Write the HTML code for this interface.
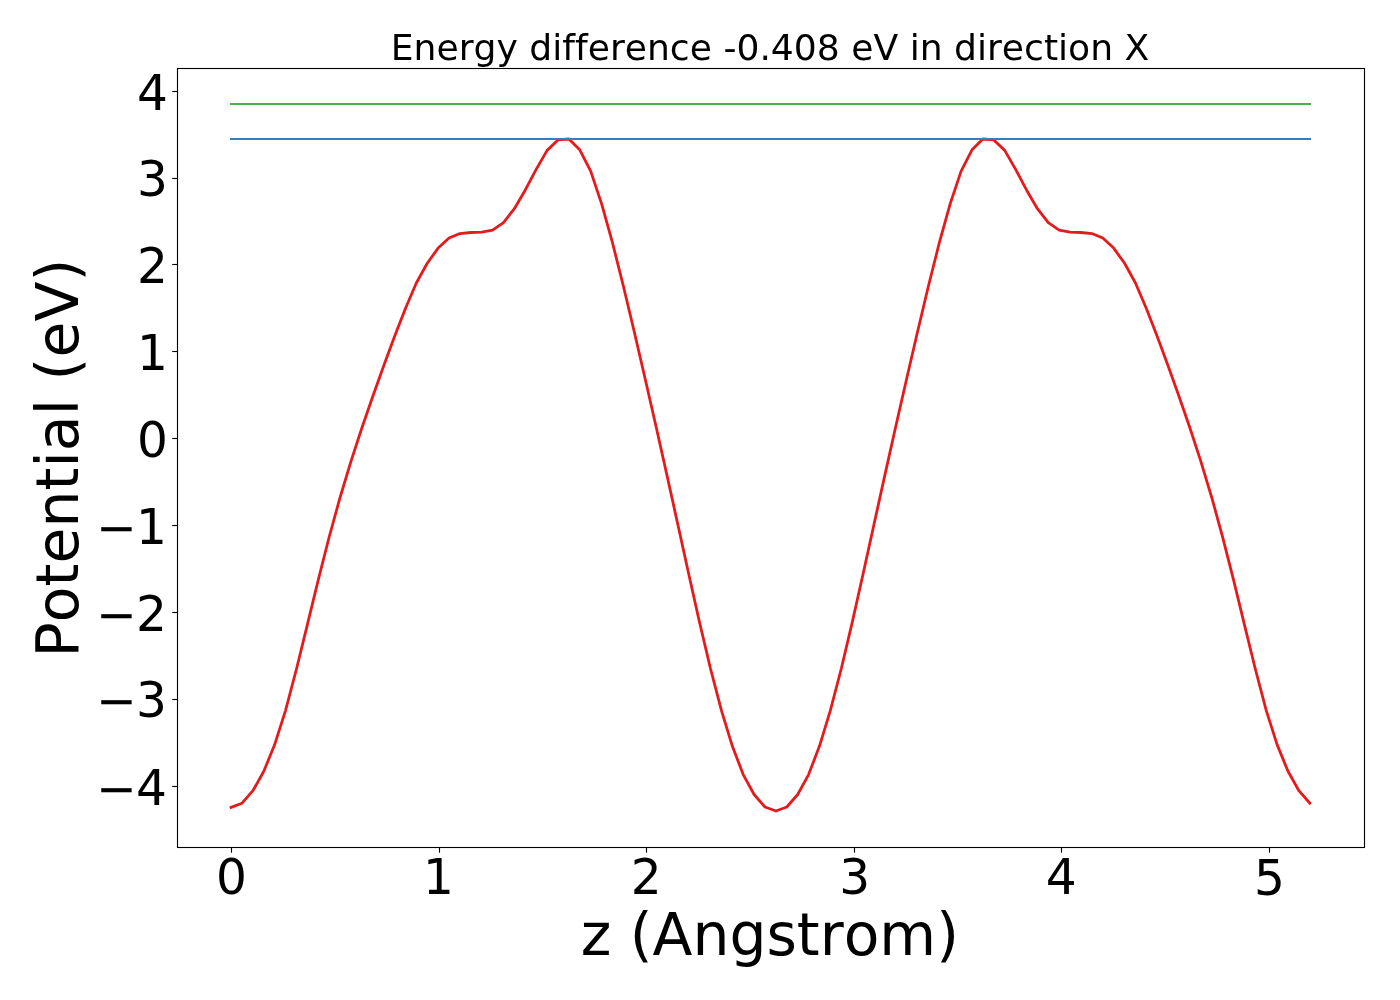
<!DOCTYPE html>
<html lang="en">
<head>
<meta charset="utf-8">
<title>Energy difference -0.408 eV in direction X</title>
<style>
html,body{margin:0;padding:0;background:#fff;}
body{width:1400px;height:1000px;overflow:hidden;}
svg{display:block;will-change:transform;}
text{font-variant-ligatures:none;font-kerning:none;font-family:"DejaVu Sans","Liberation Sans",sans-serif;fill:#000;}
</style>
</head>
<body>
<svg width="1400" height="1000" viewBox="0 0 1400 1000">
<rect width="1400" height="1000" fill="#ffffff"/>
<!-- potential curve -->
<polyline fill="none" stroke="#e41a1c" stroke-width="2.78" stroke-linejoin="round" stroke-linecap="square" points="231.10,807.40 242.00,803.20 252.89,790.70 263.79,771.30 274.68,744.60 285.58,710.35 296.48,668.99 307.37,624.63 318.27,579.85 329.16,537.03 340.06,497.48 350.96,461.38 361.85,428.03 372.75,396.46 383.64,365.95 394.54,336.42 405.44,308.53 416.33,283.04 427.23,263.28 438.12,248.09 449.02,238.08 459.92,233.56 470.81,232.50 481.71,232.13 492.60,230.08 503.50,222.53 514.39,208.70 525.29,189.97 536.19,169.37 547.08,150.37 557.98,139.98 568.87,139.00 579.77,149.78 590.67,171.15 601.56,203.65 612.46,242.64 623.35,286.01 634.25,331.74 645.15,378.70 656.04,426.49 666.94,475.11 677.83,524.47 688.73,574.04 699.63,622.68 710.52,668.76 721.42,710.45 732.31,746.06 743.21,774.56 754.11,794.52 765.00,806.96 775.90,811.07 786.79,806.96 797.69,794.52 808.59,774.56 819.48,746.06 830.38,710.45 841.27,668.76 852.17,622.68 863.07,574.04 873.96,524.47 884.86,475.11 895.75,426.49 906.65,378.70 917.55,331.74 928.44,286.01 939.34,242.64 950.23,203.65 961.13,171.15 972.03,149.78 982.92,139.00 993.82,139.98 1004.71,150.37 1015.61,169.37 1026.51,189.97 1037.40,208.70 1048.30,222.53 1059.19,230.08 1070.09,232.13 1080.98,232.50 1091.88,233.56 1102.78,238.08 1113.67,248.09 1124.57,263.28 1135.46,283.04 1146.36,308.53 1157.26,336.42 1168.15,365.95 1179.05,396.46 1189.94,428.03 1200.84,461.38 1211.74,497.48 1222.63,537.03 1233.53,579.85 1244.42,624.63 1255.32,668.99 1266.22,710.35 1277.11,744.60 1288.01,771.30 1298.90,790.70 1309.80,803.20"/>
<!-- max level and max + energy difference -->
<line x1="231" y1="139" x2="1310" y2="139" stroke="#377eb8" stroke-width="2.08" stroke-linecap="square"/>
<line x1="231" y1="104" x2="1310" y2="104" stroke="#4daf4a" stroke-width="2.08" stroke-linecap="square"/>
<!-- axes frame -->
<rect x="177.5" y="68.5" width="1187.0" height="779.0" fill="none" stroke="#000" stroke-width="1.11" stroke-linejoin="miter"/>
<!-- x ticks -->
<line x1="231.5" y1="847.5" x2="231.5" y2="852.70" stroke="#000" stroke-width="1.11"/>
<text transform="translate(231.45,894) scale(1,1.022)" font-size="48.61" text-anchor="middle">0</text>
<line x1="439.5" y1="847.5" x2="439.5" y2="852.70" stroke="#000" stroke-width="1.11"/>
<text transform="translate(438.55,894) scale(1,1.022)" font-size="48.61" text-anchor="middle">1</text>
<line x1="646.5" y1="847.5" x2="646.5" y2="852.70" stroke="#000" stroke-width="1.11"/>
<text transform="translate(646.15,894) scale(1,1.022)" font-size="48.61" text-anchor="middle">2</text>
<line x1="854.5" y1="847.5" x2="854.5" y2="852.70" stroke="#000" stroke-width="1.11"/>
<text transform="translate(854.75,894) scale(1,1.022)" font-size="48.61" text-anchor="middle">3</text>
<line x1="1061.5" y1="847.5" x2="1061.5" y2="852.70" stroke="#000" stroke-width="1.11"/>
<text transform="translate(1061.15,894) scale(1,1.022)" font-size="48.61" text-anchor="middle">4</text>
<line x1="1269.5" y1="847.5" x2="1269.5" y2="852.70" stroke="#000" stroke-width="1.11"/>
<text transform="translate(1269.45,894.85) scale(1,1.022)" font-size="48.61" text-anchor="middle">5</text>
<!-- y ticks -->
<line x1="172.20" y1="91.5" x2="177.5" y2="91.5" stroke="#000" stroke-width="1.11"/>
<text transform="translate(167.80,110) scale(1,1.022)" font-size="48.61" text-anchor="end">4</text>
<line x1="172.20" y1="178.5" x2="177.5" y2="178.5" stroke="#000" stroke-width="1.11"/>
<text transform="translate(167.80,196) scale(1,1.022)" font-size="48.61" text-anchor="end">3</text>
<line x1="172.20" y1="264.5" x2="177.5" y2="264.5" stroke="#000" stroke-width="1.11"/>
<text transform="translate(167.80,283) scale(1,1.022)" font-size="48.61" text-anchor="end">2</text>
<line x1="172.20" y1="351.5" x2="177.5" y2="351.5" stroke="#000" stroke-width="1.11"/>
<text transform="translate(167.80,370) scale(1,1.022)" font-size="48.61" text-anchor="end">1</text>
<line x1="172.20" y1="438.5" x2="177.5" y2="438.5" stroke="#000" stroke-width="1.11"/>
<text transform="translate(167.80,457) scale(1,1.022)" font-size="48.61" text-anchor="end">0</text>
<line x1="172.20" y1="525.5" x2="177.5" y2="525.5" stroke="#000" stroke-width="1.11"/>
<text transform="translate(166.90,544) scale(1,1.022)" font-size="48.61" text-anchor="end"><tspan dy="0.75">−</tspan><tspan dx="-0.9" dy="-0.75">1</tspan></text>
<line x1="172.20" y1="612.5" x2="177.5" y2="612.5" stroke="#000" stroke-width="1.11"/>
<text transform="translate(166.90,631) scale(1,1.022)" font-size="48.61" text-anchor="end"><tspan dy="0.75">−</tspan><tspan dx="-0.9" dy="-0.75">2</tspan></text>
<line x1="172.20" y1="699.5" x2="177.5" y2="699.5" stroke="#000" stroke-width="1.11"/>
<text transform="translate(166.90,717) scale(1,1.022)" font-size="48.61" text-anchor="end"><tspan dy="0.75">−</tspan><tspan dx="-0.9" dy="-0.75">3</tspan></text>
<line x1="172.20" y1="786.5" x2="177.5" y2="786.5" stroke="#000" stroke-width="1.11"/>
<text transform="translate(166.90,805) scale(1,1.022)" font-size="48.61" text-anchor="end"><tspan dy="0.75">−</tspan><tspan dx="-0.9" dy="-0.75">4</tspan></text>
<!-- title and axis labels -->
<text x="770.05" y="60.0" font-size="36.11" text-anchor="middle">Energy difference -0.408 eV in direction X</text>
<text x="769.8" y="954.6" font-size="58.33" text-anchor="middle">z (Angstrom)</text>
<text transform="translate(77.6,458.15) rotate(-90)" font-size="58.33" text-anchor="middle" textLength="398.7" lengthAdjust="spacing">Potential (eV)</text>
</svg>
</body>
</html>
